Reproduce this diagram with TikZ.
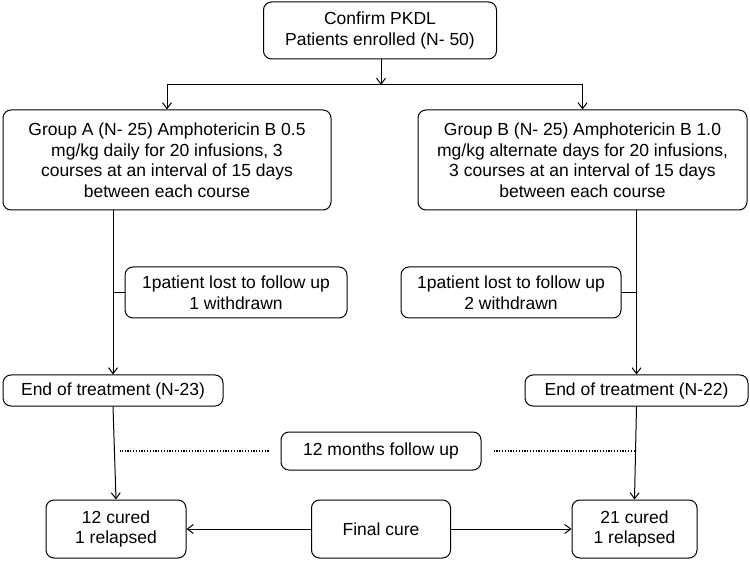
\documentclass[tikz,border=0pt]{standalone}
\usepackage{fontspec}
\setmainfont{Liberation Sans}
\usepackage{tikz}
\usetikzlibrary{arrows.meta}

\begin{document}
\begin{tikzpicture}[x=1pt,y=-1pt,line width=1pt,
  box/.style={draw,rounded corners=8pt,inner sep=0pt,align=center,
    font=\fontsize{17.5}{20.5}\selectfont},
  dots/.style={line width=1.4pt,dash pattern=on 1.2pt off 1.6pt},
  >={Straight Barb[length=6pt,width=9pt]}]

\useasboundingbox (0,0) rectangle (750,561);

\node [box,minimum width=233,minimum height=57] (z) at (380,30.5)
  {Confirm PKDL\\ Patients enrolled (N- 50)};
\node [box,minimum width=328,minimum height=100] (a) at (167,160)
  {Group A (N- 25) Amphotericin B 0.5\\ mg/kg daily for 20 infusions, 3\\
   courses at an interval of 15 days\\ between each course};
\node [box,minimum width=329,minimum height=100] (b) at (582.5,160)
  {Group B (N- 25) Amphotericin B 1.0\\ mg/kg alternate days for 20 infusions,\\
   3 courses at an interval of 15 days\\ between each course};
\node [box,minimum width=222,minimum height=51] (c) at (236,292.5)
  {1patient lost to follow up\\ 1 withdrawn};
\node [box,minimum width=220,minimum height=51] (d) at (511,292.5)
  {1patient lost to follow up\\ 2 withdrawn};
\node [box,minimum width=220,minimum height=31] (e) at (113,390.5)
  {End of treatment (N-23)};
\node [box,minimum width=223,minimum height=31] (f) at (636.5,390.5)
  {End of treatment (N-22)};
\node [box,minimum width=200,minimum height=38] (g) at (381,451)
  {12 months follow up};
\node [box,minimum width=140,minimum height=58] (h) at (116,529)
  {12 cured\\ 1 relapsed};
\node [box,minimum width=139,minimum height=58] (i) at (381,529)
  {Final cure};
\node [box,minimum width=125,minimum height=58] (j) at (634.5,529)
  {21 cured\\ 1 relapsed};

\coordinate (m) at (381,85);
\draw [->] (z.south -| m) -- (m);
\draw (m -| a.north) -- (m -| b.north);
\draw [->] (m -| a.north) -- (a.north);
\draw [->] (m -| b.north) -- (b.north);

\draw [->] (e.north |- a.south) -- (e.north);
\draw (c.west) -- (c.west -| e.north);
\draw [->] (f.north |- b.south) -- (f.north);
\draw (d.east) -- (d.east -| f.north);

\draw [->] (e.south) -- (h.north);
\draw [->] (f.south) -- (j.north);
\draw [dots] ([xshift=-12pt]g.west) -- ([xshift=7pt]g.west -| e.south);
\draw [dots] ([xshift=12pt]g.east) -- ([xshift=-2pt]g.east -| f.south);

\draw [->] (i.west) -- (h.east);
\draw [->] (i.east) -- (j.west);

\end{tikzpicture}
\end{document}
